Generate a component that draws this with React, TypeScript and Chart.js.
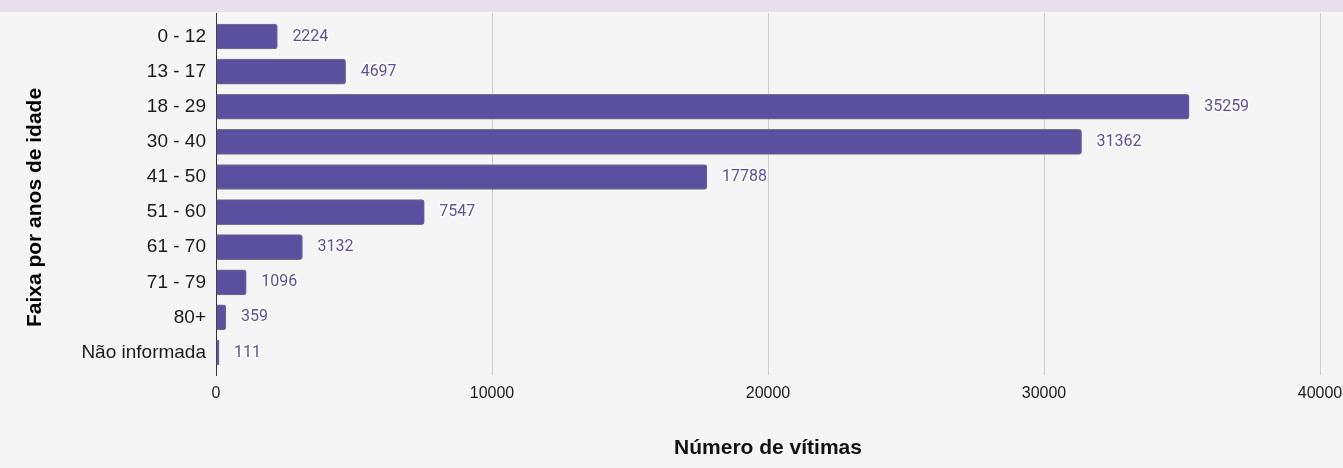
import React, { useEffect, useRef } from "react";
import { Chart, registerables } from "chart.js";

Chart.register(...registerables);

const ageGroups = [
  "0 - 12",
  "13 - 17",
  "18 - 29",
  "30 - 40",
  "41 - 50",
  "51 - 60",
  "61 - 70",
  "71 - 79",
  "80+",
  "Não informada",
];
const victims = [2224, 4697, 35259, 31362, 17788, 7547, 3132, 1096, 359, 111];
const xTickValues = [0, 10000, 20000, 30000, 40000];
const xTitle = "Número de vítimas";
const yTitle = "Faixa por anos de idade";

const PURPLE = "#5b4f9f";
const SANS = "'Liberation Sans', Arial, sans-serif";

export default function App() {
  const ref = useRef<HTMLCanvasElement>(null);

  useEffect(() => {
    if (!ref.current) return;

    const valueLabels = {
      id: "valueLabels",
      afterDatasetsDraw(chart: any) {
        const { ctx } = chart;
        const meta = chart.getDatasetMeta(0);
        ctx.save();
        ctx.font = "16px Roboto";
        ctx.textAlign = "left";
        ctx.textBaseline = "middle";
        ctx.lineJoin = "round";
        ctx.lineWidth = 3;
        ctx.strokeStyle = "#ffffff";
        ctx.fillStyle = PURPLE;
        meta.data.forEach((bar: any, i: number) => {
          const t = String(victims[i]);
          const x = bar.x + 15;
          const y = bar.y;
          ctx.strokeText(t, x, y);
          ctx.fillText(t, x, y);
        });
        ctx.restore();
      },
    };

    const yTitlePlugin = {
      id: "yTitle",
      afterDraw(chart: any) {
        const { ctx, chartArea } = chart;
        ctx.save();
        ctx.translate(35.5, (chartArea.top + chartArea.bottom) / 2 + 13.5);
        ctx.rotate(-Math.PI / 2);
        ctx.font = `bold 21px ${SANS}`;
        ctx.fillStyle = "#000000";
        ctx.textAlign = "center";
        ctx.textBaseline = "middle";
        ctx.fillText(yTitle, 0, 0);
        ctx.restore();
      },
    };

    const chart = new Chart(ref.current, {
      type: "bar",
      data: {
        datasets: [
          {
            data: victims.map((v, i) => ({ x: v, y: i })),
            backgroundColor: PURPLE,
            borderColor: "#74727f",
            borderWidth: 1,
            borderRadius: 3,
            borderSkipped: "start",
            barThickness: 25,
          },
        ],
      },
      options: {
        indexAxis: "y",
        animation: false,
        responsive: false,
        events: [],
        layout: { padding: { left: 0, right: 23, top: 13, bottom: 0 } },
        plugins: {
          legend: { display: false },
          tooltip: { enabled: false },
        },
        scales: {
          x: {
            type: "linear",
            min: 0,
            max: 40000,
            afterBuildTicks: (s: any) => {
              s.ticks = xTickValues.map((v) => ({ value: v }));
            },
            afterFit: (s: any) => {
              s.height = 93;
              s.paddingLeft = 0;
              s.paddingRight = 0;
            },
            grid: {
              color: (c: any) => (c.tick && c.tick.value === 0 ? "rgba(0,0,0,0)" : "#cccccc"),
              drawTicks: false,
              lineWidth: 1,
            },
            border: { display: false },
            ticks: {
              padding: 9,
              color: "#1a1a1a",
              font: { family: SANS, size: 16 },
              autoSkip: false,
              maxRotation: 0,
              callback: (v: any) => String(v),
            },
            title: {
              display: true,
              text: xTitle,
              color: "#111111",
              font: { family: SANS, size: 21, weight: "bold" },
              padding: { top: 0, bottom: 7 },
            },
          },
          y: {
            type: "linear",
            reverse: true,
            offset: false,
            min: -0.67,
            max: 9.64,
            afterBuildTicks: (s: any) => {
              s.ticks = ageGroups.map((_, i) => ({ value: i }));
            },
            afterFit: (s: any) => {
              s.width = 216;
              s.paddingTop = 0;
              s.paddingBottom = 0;
            },
            grid: { display: false, drawTicks: false, offset: false },
            border: { display: true, color: "#333333", width: 1 },
            ticks: {
              padding: 10,
              color: "#1a1a1a",
              font: { family: SANS, size: 19 },
              autoSkip: false,
              callback: (v: any) => ageGroups[v] ?? "",
            },
          },
        },
      },
      plugins: [valueLabels, yTitlePlugin],
    } as any);

    return () => chart.destroy();
  }, []);

  return (
    <div
      style={{
        position: "fixed",
        left: 0,
        top: 0,
        width: 1343,
        height: 468,
        background: "#f5f5f5",
        overflow: "hidden",
      }}
    >
      <div
        style={{
          position: "absolute",
          left: 0,
          top: 0,
          width: "100%",
          height: 12,
          background: "#e5dfee",
        }}
      />
      <canvas
        ref={ref}
        width={1343}
        height={468}
        style={{ position: "absolute", left: 0, top: 0 }}
      />
    </div>
  );
}
